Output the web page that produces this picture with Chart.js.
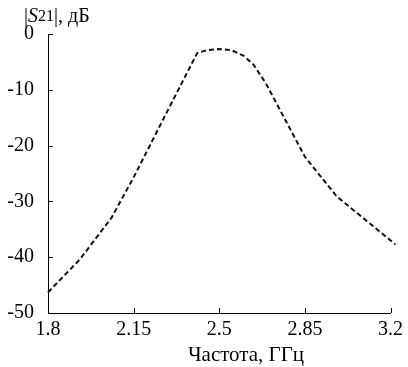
<!DOCTYPE html>
<html lang="ru">
<head>
  <meta charset="UTF-8" />
  <title>|S21|</title>
  <script src="https://cdn.jsdelivr.net/npm/chart.js"></script>
  <style>
    body { margin: 0; background: #fff; }
    #wrap { width: 408px; height: 367px; }
  </style>
</head>
<body>
  <div id="wrap"><canvas id="grafico" width="408" height="367"></canvas></div>

  <script>
    // dados
    const frequencias = [1.8, 1.93, 2.06, 2.15, 2.28, 2.41, 2.45, 2.5, 2.55, 2.6, 2.64, 2.69, 2.85, 2.98, 3.22];
    const s21 = [-46.3, -40.4, -32.9, -25.7, -14.5, -3.4, -2.9, -2.7, -2.9, -3.9, -5.5, -8.8, -22.0, -29.1, -37.7];
    const ticksX = [1.8, 2.15, 2.5, 2.85, 3.2];
    const ticksY = [-50, -40, -30, -20, -10, 0];

    const fonte = "'Liberation Serif', 'Times New Roman', serif";

    // marcas de escala para dentro + títulos
    const extras = {
      id: 'extras',
      afterDraw(chart) {
        const ctx = chart.ctx;
        const a = chart.chartArea;
        const sx = chart.scales.x, sy = chart.scales.y;
        ctx.save();
        ctx.strokeStyle = '#000';
        ctx.lineWidth = 1;
        ctx.beginPath();
        ticksY.forEach(v => {
          const y = Math.round(sy.getPixelForValue(v)) + 0.5;
          ctx.moveTo(a.left, y); ctx.lineTo(a.left + 5, y);
        });
        ticksX.forEach(v => {
          const x = Math.round(sx.getPixelForValue(v)) + 0.5;
          ctx.moveTo(x, a.bottom); ctx.lineTo(x, a.bottom - 5);
        });
        ctx.stroke();

        ctx.fillStyle = '#000';
        ctx.textBaseline = 'middle';
        ctx.textAlign = 'center';
        ctx.font = '21px ' + fonte;
        ctx.fillText('Частота, ГГц', 246, 355);

        // |S21|, дБ
        ctx.textAlign = 'left';
        let x = 24;
        const y = 17;
        const partes = [
          ['|', '20px ' + fonte],
          ['S', 'italic 20px ' + fonte],
          ['21', '16px ' + fonte],
          ['|, дБ', '20px ' + fonte]
        ];
        partes.forEach(p => {
          ctx.font = p[1];
          ctx.fillText(p[0], x, y);
          x += ctx.measureText(p[0]).width;
        });
        ctx.restore();
      }
    };

    new Chart(document.getElementById('grafico'), {
      type: 'line',
      data: {
        datasets: [{
          data: frequencias.map((f, i) => ({ x: f, y: s21[i] })),
          borderColor: '#111',
          borderWidth: 2,
          borderDash: [5, 3],
          pointRadius: 0,
          tension: 0,
          fill: false,
          clip: false
        }]
      },
      options: {
        responsive: false,
        animation: false,
        layout: { padding: { top: 34, right: 11, left: 0, bottom: 0 } },
        plugins: { legend: { display: false }, tooltip: { enabled: false } },
        scales: {
          x: {
            type: 'linear',
            min: 1.8,
            max: 3.2,
            afterBuildTicks: s => { s.ticks = ticksX.map(v => ({ value: v })); },
            afterFit: s => { s.height = 54; },
            grid: { display: false, drawTicks: false },
            border: { display: true, color: '#000', width: 1 },
            ticks: {
              color: '#000',
              padding: 5,
              font: { family: fonte, size: 20 },
              callback: v => String(v)
            }
          },
          y: {
            min: -50,
            max: 0,
            afterBuildTicks: s => { s.ticks = ticksY.map(v => ({ value: v })); },
            afterFit: s => { s.width = 48; },
            grid: { display: false, drawTicks: false },
            border: { display: true, color: '#000', width: 1 },
            ticks: {
              color: '#000',
              padding: 14,
              font: { family: fonte, size: 20 },
              callback: v => String(v)
            }
          }
        }
      },
      plugins: [extras]
    });
  </script>
</body>
</html>
